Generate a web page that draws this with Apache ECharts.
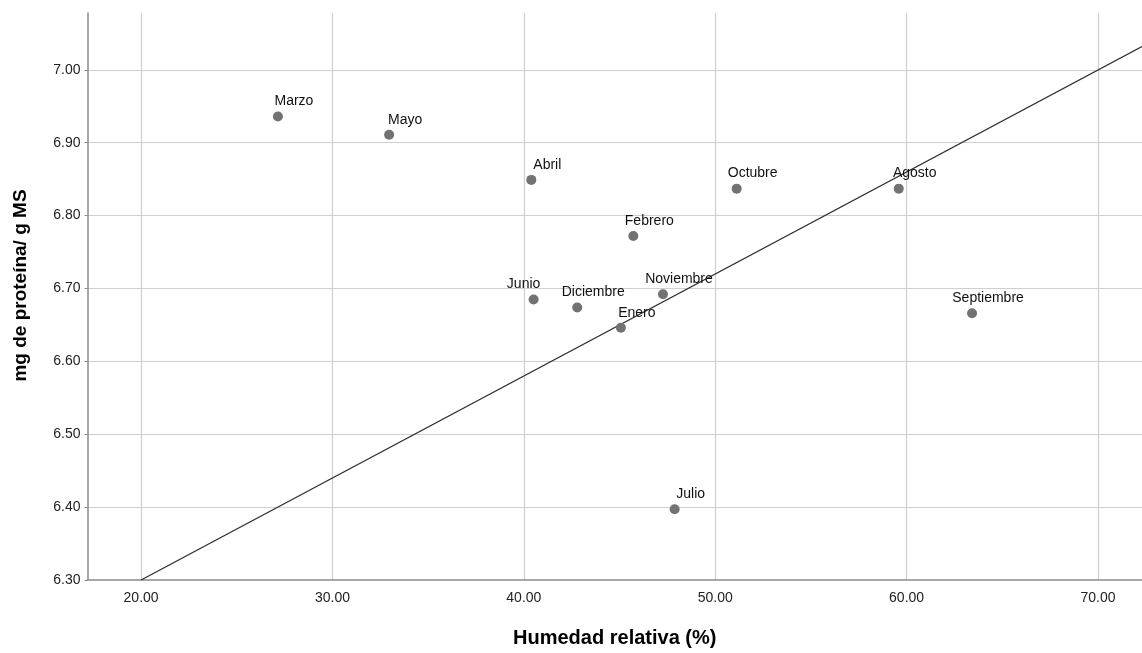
<!DOCTYPE html>
<html>
<head>
<meta charset="utf-8">
<script src="https://cdn.jsdelivr.net/npm/echarts@6/dist/echarts.min.js"></script>
<style>
html,body{margin:0;padding:0;background:#fff;}
#c{width:1142px;height:653px;}
</style>
</head>
<body>
<div id="c"></div>
<script>
// Data
const months = ['Marzo','Mayo','Abril','Octubre','Febrero','Junio','Diciembre','Noviembre','Enero','Julio','Agosto','Septiembre'];
const humedad = [27.15, 32.96, 40.39, 51.12, 45.72, 40.51, 42.79, 47.27, 45.07, 47.88, 59.59, 63.42];
const proteina = [6.936, 6.911, 6.849, 6.837, 6.772, 6.685, 6.674, 6.692, 6.646, 6.397, 6.837, 6.666];
// Fit line endpoints (x, y)
const fitX = [20, 72.3];
const fitY = [6.30, 7.032];
const xTicks = ['20.00','30.00','40.00','50.00','60.00','70.00'];
const yTicks = ['6.30','6.40','6.50','6.60','6.70','6.80','6.90','7.00'];

// Label layout (style, not data)
const labelDx = {Junio: -10};

const font = '"Liberation Sans", Arial, sans-serif';
const chart = echarts.init(document.getElementById('c'), null, {renderer: 'canvas'});

const points = months.map((m, i) => ({
  name: m,
  value: [humedad[i], proteina[i]],
  label: {offset: [labelDx[m] !== undefined ? labelDx[m] : 16, 0]}
}));

chart.setOption({
  animation: false,
  backgroundColor: '#ffffff',
  grid: {left: 87.5, right: 0, top: 13, bottom: 71, containLabel: false},
  xAxis: {
    type: 'value',
    min: 17.2, max: 72.3, splitNumber: 5,
    name: 'Humedad relativa (%)',
    nameLocation: 'middle', nameGap: 48,
    nameTextStyle: {fontFamily: font, fontSize: 20, fontWeight: 'bold', color: '#000'},
    axisLine: {show: true, onZero: false, lineStyle: {color: '#8a8a8a', width: 1.5}},
    axisTick: {show: false},
    axisLabel: {
      fontFamily: font, fontSize: 14, color: '#222', margin: 11,
      showMinLabel: false, showMaxLabel: false,
      formatter: v => { const s = v.toFixed(2); return xTicks.indexOf(s) >= 0 ? s : ''; }
    },
    splitLine: {show: true, showMinLine: false, showMaxLine: false, lineStyle: {color: '#cfcfcf', width: 1.2}}
  },
  yAxis: {
    type: 'value',
    min: 6.3, max: 7.078, splitNumber: 7,
    name: 'mg de proteína/ g MS',
    nameLocation: 'middle', nameGap: 57,
    nameTextStyle: {fontFamily: font, fontSize: 19, fontWeight: 'bold', color: '#000', padding: [0, 0, 0, 22]},
    axisLine: {show: true, onZero: false, lineStyle: {color: '#8a8a8a', width: 1.5}},
    axisTick: {show: true, length: 3, lineStyle: {color: '#8a8a8a'}},
    axisLabel: {
      fontFamily: font, fontSize: 14, color: '#222', margin: 7,
      showMaxLabel: false,
      formatter: v => { const s = v.toFixed(2); return yTicks.indexOf(s) >= 0 ? s : ''; }
    },
    splitLine: {show: true, showMinLine: false, showMaxLine: false, lineStyle: {color: '#cfcfcf', width: 1.2}}
  },
  series: [
    {
      type: 'line',
      data: fitX.map((x, i) => [x, fitY[i]]),
      showSymbol: false,
      symbol: 'none',
      lineStyle: {color: '#2e2e2e', width: 1.3},
      silent: true,
      z: 3
    },
    {
      type: 'scatter',
      data: points,
      symbolSize: 10,
      itemStyle: {color: '#727272', opacity: 1},
      label: {
        show: true, position: 'top', distance: 3,
        formatter: p => p.name,
        fontFamily: font, fontSize: 14, color: '#111'
      },
      z: 4
    }
  ]
});
</script>
</body>
</html>
